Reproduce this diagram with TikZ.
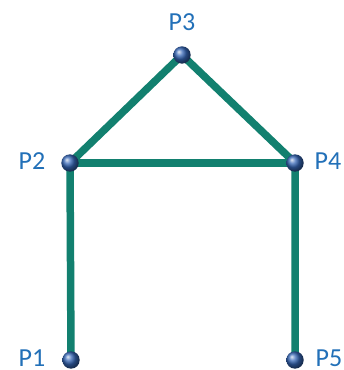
\documentclass[tikz,border=0pt]{standalone}
\usepackage{fontspec}
\setmainfont{Carlito}
\definecolor{edgecol}{HTML}{12806F}
\definecolor{labcol}{HTML}{2270B8}
\definecolor{ballcol}{HTML}{3566B5}
\begin{document}
\begin{tikzpicture}[x=1pt,y=1pt,
  pt/.style={circle,inner sep=0pt,minimum size=17pt},
  edge/.style={draw=edgecol,line width=7.5pt},
  lab/.style={text=labcol,font=\fontsize{26}{30}\selectfont,inner sep=0pt,anchor=base,text depth=0pt},
  ]
\useasboundingbox (0,0) rectangle (344,370);
\node[pt] (p1) at (71,10) {};
\node[pt] (p2) at (70,207) {};
\node[pt] (p3) at (182,315) {};
\node[pt] (p4) at (295,207) {};
\node[pt] (p5) at (295,10) {};
\draw[edge] (p1.center) -- (p2.center) -- (p3.center) -- (p4.center) -- (p5.center);
\draw[edge] (p2.center) -- (p4.center);
\foreach \n in {p1,p2,p3,p4,p5}{
  \shade[ball color=ballcol] (\n.center) circle (8.7pt);
}
\node[lab] (l1) at (32,4) {P1};
\node[lab] (l2) at (32,200) {P2};
\node[lab] (l3) at (182,339) {P3};
\node[lab] (l4) at (328,200) {P4};
\node[lab] (l5) at (329,4) {P5};
\end{tikzpicture}
\end{document}
